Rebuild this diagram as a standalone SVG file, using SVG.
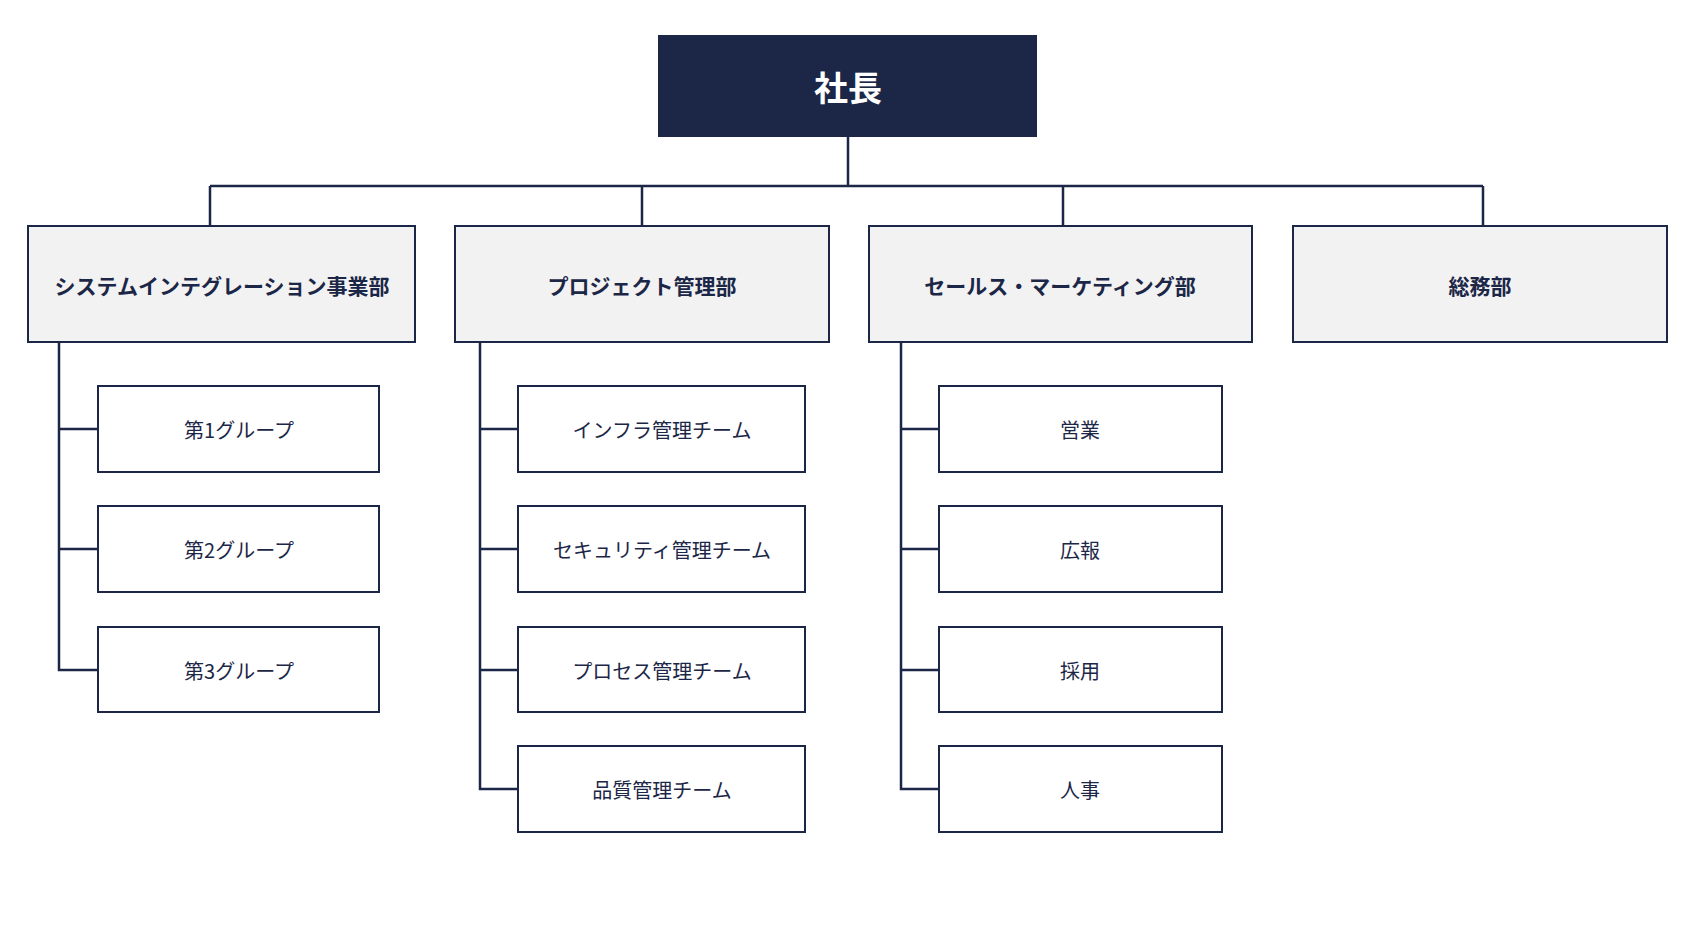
<svg xmlns="http://www.w3.org/2000/svg" width="1693" height="929" viewBox="0 0 1693 929">
<style>
.d{fill:#f2f2f3;stroke:#1c2747;stroke-width:2}
.c{fill:#fff;stroke:#1c2747;stroke-width:2}
.l{fill:none;stroke:#1c2747;stroke-width:2.5}
text{font-family:"Noto Sans CJK JP",sans-serif;fill:#1c2747;text-anchor:middle;dominant-baseline:central}
.dt{font-size:21px;font-weight:bold}
.ct{font-size:20px}
</style>
<rect width="1693" height="929" fill="#fff"/>
<g id="connectors" class="l">
<path d="M848 137V186M210 186H1483M210 186V226M642 186V226M1063 186V226M1483 186V226"/>
<path d="M59 342V670H98M59 429H98M59 549H98"/>
<path d="M480 342V789H518M480 429H518M480 549H518M480 670H518"/>
<path d="M901 342V789H939M901 429H939M901 549H939M901 670H939"/>
</g>
<g id="ceo"><rect x="658" y="35" width="379" height="102" fill="#1c2747"/><text x="848" y="86" font-size="34" font-weight="bold" style="fill:#fff">社長</text></g>
<g id="d1"><rect class="d" x="28" y="226" width="387" height="116"/><text class="dt" x="222" y="285">システムインテグレーション事業部</text></g>
<g id="d2"><rect class="d" x="455" y="226" width="374" height="116"/><text class="dt" x="642" y="285">プロジェクト管理部</text></g>
<g id="d3"><rect class="d" x="869" y="226" width="383" height="116"/><text class="dt" x="1060" y="285">セールス・マーケティング部</text></g>
<g id="d4"><rect class="d" x="1293" y="226" width="374" height="116"/><text class="dt" x="1480" y="285">総務部</text></g>
<g id="c11"><rect class="c" x="98" y="386" width="281" height="86"/><text class="ct" x="239" y="429">第1グループ</text></g>
<g id="c12"><rect class="c" x="98" y="506" width="281" height="86"/><text class="ct" x="239" y="549">第2グループ</text></g>
<g id="c13"><rect class="c" x="98" y="627" width="281" height="85"/><text class="ct" x="239" y="670">第3グループ</text></g>
<g id="c21"><rect class="c" x="518" y="386" width="287" height="86"/><text class="ct" x="662" y="429">インフラ管理チーム</text></g>
<g id="c22"><rect class="c" x="518" y="506" width="287" height="86"/><text class="ct" x="662" y="549">セキュリティ管理チーム</text></g>
<g id="c23"><rect class="c" x="518" y="627" width="287" height="85"/><text class="ct" x="662" y="670">プロセス管理チーム</text></g>
<g id="c24"><rect class="c" x="518" y="746" width="287" height="86"/><text class="ct" x="662" y="789">品質管理チーム</text></g>
<g id="c31"><rect class="c" x="939" y="386" width="283" height="86"/><text class="ct" x="1080" y="429">営業</text></g>
<g id="c32"><rect class="c" x="939" y="506" width="283" height="86"/><text class="ct" x="1080" y="549">広報</text></g>
<g id="c33"><rect class="c" x="939" y="627" width="283" height="85"/><text class="ct" x="1080" y="670">採用</text></g>
<g id="c34"><rect class="c" x="939" y="746" width="283" height="86"/><text class="ct" x="1080" y="789">人事</text></g>
</svg>
